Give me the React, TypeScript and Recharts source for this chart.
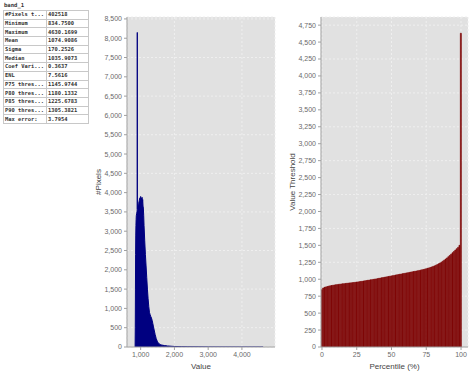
import React from "react";
import {
  AreaChart, Area, BarChart, Bar, XAxis, YAxis, CartesianGrid,
} from "recharts";

// stats panel
const statNames = [
  "#Pixels t...", "Minimum", "Maximum", "Mean", "Sigma", "Median", "Coef Vari...",
  "ENL", "P75 thres...", "P80 thres...", "P85 thres...", "P90 thres...", "Max error:",
];
const statValues = [
  "402518", "834.7500", "4630.1699", "1074.9086", "170.2526", "1035.9073", "0.3637",
  "7.5616", "1145.9744", "1180.1332", "1225.6783", "1305.3821", "3.7954",
];

// histogram (band_1)
const histValue = [
  835, 840, 845, 850, 855, 860, 865, 870, 880, 890, 897, 900, 903,
  910, 920, 930, 940, 950, 960, 970, 980, 990, 1000,
  1010, 1020, 1030, 1040, 1050, 1060, 1070, 1080, 1090, 1100,
  1120, 1140, 1160, 1180, 1200, 1220, 1240, 1260, 1280, 1300,
  1320, 1340, 1360, 1380, 1400, 1430, 1460, 1500, 1550, 1600,
  1700, 1800, 1900, 2000, 2200, 2400, 2700, 3000, 3500, 4000, 4630,
];
const histCount = [
  0, 500, 1500, 2400, 2900, 3150, 3300, 3400, 3450, 3500, 3550, 8150, 3580,
  3600, 3650, 3700, 3720, 3760, 3800, 3850, 3820, 3880, 3900,
  3780, 3860, 3700, 3880, 3740, 3820, 3650, 3600, 3400, 3150,
  2750, 2400, 2100, 1800, 1500, 1250, 1050, 900, 840, 790,
  750, 690, 610, 520, 440, 320, 220, 130, 80, 55,
  38, 27, 20, 14, 9, 6, 4, 3, 2, 1, 1,
];
const histXTicks = [1000, 2000, 3000, 4000];
const histYTicks = [0, 500, 1000, 1500, 2000, 2500, 3000, 3500, 4000, 4500, 5000, 5500, 6000, 6500, 7000, 7500, 8000, 8500];

// percentile thresholds
const percentiles = [
  0, 1, 2, 3, 4, 5, 6, 7, 8, 9, 10, 11, 12, 13, 14, 15, 16, 17, 18, 19, 20,
  21, 22, 23, 24, 25, 26, 27, 28, 29, 30, 31, 32, 33, 34, 35, 36, 37, 38, 39, 40,
  41, 42, 43, 44, 45, 46, 47, 48, 49, 50, 51, 52, 53, 54, 55, 56, 57, 58, 59, 60,
  61, 62, 63, 64, 65, 66, 67, 68, 69, 70, 71, 72, 73, 74, 75, 76, 77, 78, 79, 80,
  81, 82, 83, 84, 85, 86, 87, 88, 89, 90, 91, 92, 93, 94, 95, 96, 97, 98, 99, 100,
];
const thresholds = [
  845, 870, 880, 887, 893, 898, 903, 907, 911, 915, 918, 921, 924, 927, 930, 933, 935, 938, 940, 943, 945,
  947, 950, 952, 955, 958, 961, 964, 967, 970, 973, 977, 980, 984, 987, 991, 994, 998, 1001, 1005, 1009,
  1013, 1017, 1021, 1025, 1029, 1033, 1037, 1041, 1045, 1049, 1053, 1057, 1061, 1065, 1069, 1073, 1077, 1081, 1085, 1089,
  1093, 1097, 1101, 1105, 1109, 1113, 1117, 1121, 1125, 1130, 1134, 1139, 1144, 1149, 1155, 1161, 1167, 1174, 1181, 1189,
  1197, 1206, 1216, 1227, 1239, 1252, 1266, 1281, 1297, 1314, 1332, 1351, 1370, 1390, 1410, 1430, 1450, 1470, 1500, 4630,
];
const pctXTicks = [0, 25, 50, 75, 100];
const pctYTicks = [0, 250, 500, 750, 1000, 1250, 1500, 1750, 2000, 2250, 2500, 2750, 3000, 3250, 3500, 3750, 4000, 4250, 4500, 4750];

const histData = histValue.map((v, i) => ({ value: v, count: histCount[i] }));
const pctData = percentiles.map((p, i) => ({ pct: p, threshold: thresholds[i] }));

const FONT = "'Liberation Sans', Arial, sans-serif";
const tickStyle = { fontSize: 7, fill: "#6a6a6a", fontFamily: FONT };
const AXIS = "#a0a0a0";
const fmt = (v: number) => v.toLocaleString("en-US");

const yTitle = (text: string, dx: number) => (props: any) => {
  const vb = props.viewBox || {};
  const cx = (vb.x ?? 0) + dx;
  const cy = (vb.y ?? 0) + (vb.height ?? 0) / 2;
  return (
    <text
      x={cx} y={cy} transform={`rotate(-90 ${cx} ${cy})`}
      textAnchor="middle" dominantBaseline="central"
      style={{ fontSize: 8, fill: "#444", fontFamily: FONT }}
    >
      {text}
    </text>
  );
};

function StatsTable() {
  const cell = { border: "1px solid #c8c8c8", padding: "0 1px", lineHeight: "7px", whiteSpace: "nowrap" as const };
  return (
    <div style={{ position: "absolute", left: 3, top: 1, fontFamily: "'DejaVu Sans Mono', monospace", fontSize: 5.4, fontWeight: "bold", color: "#333" }}>
      <div style={{ height: 9, lineHeight: "9px", paddingLeft: 1, fontSize: 5.6 }}>band_1</div>
      <table style={{ borderCollapse: "collapse", width: 86 }}>
        <tbody>
          {statNames.map((n, i) => (
            <tr key={n} style={{ height: 8.7 }}>
              <td style={{ ...cell, width: 40 }}>{n}</td>
              <td style={cell}>{statValues[i]}</td>
            </tr>
          ))}
        </tbody>
      </table>
    </div>
  );
}

export default function App() {
  return (
    <div style={{ position: "absolute", left: 0, top: 0, width: 474, height: 378, background: "#fff", overflow: "hidden" }}>
      <StatsTable />

      <div style={{ position: "absolute", left: 80, top: 0 }}>
        <AreaChart width={200} height={378} data={histData} margin={{ top: 17, right: 5, bottom: 0, left: 0 }}>
          <CartesianGrid fill="#e1e1e1" stroke="#efefef" strokeDasharray="2 2" />
          <XAxis
            dataKey="value" type="number" domain={[595, 4980]} ticks={histXTicks}
            tickFormatter={fmt} tick={tickStyle} tickSize={3} height={31}
            stroke={AXIS} allowDataOverflow
            label={{ value: "Value", position: "insideBottom", offset: 9, style: { fontSize: 8, fill: "#444", fontFamily: FONT } }}
          />
          <XAxis xAxisId="top" orientation="top" height={0} tick={false} tickLine={false} stroke={AXIS} />
          <YAxis
            type="number" domain={[0, 8550]} ticks={histYTicks} tickFormatter={fmt}
            tick={tickStyle} tickSize={3} width={47} stroke={AXIS} allowDataOverflow
            label={{ content: yTitle("#Pixels", 18) }}
          />
          <YAxis yAxisId="right" orientation="right" width={0} tick={false} tickLine={false} stroke={AXIS} />
          <Area
            dataKey="count" type="linear" fill="#000080" fillOpacity={1}
            stroke="#000080" strokeWidth={1} isAnimationActive={false} dot={false}
          />
        </AreaChart>
      </div>

      <div style={{ position: "absolute", left: 276, top: 0 }}>
        <BarChart width={198} height={378} data={pctData} margin={{ top: 17, right: 6, bottom: 0, left: 0 }} barCategoryGap={0} barGap={0}>
          <CartesianGrid fill="#e1e1e1" stroke="#efefef" strokeDasharray="2 2" />
          <XAxis
            dataKey="pct" type="number" domain={[-0.7, 105]} ticks={pctXTicks}
            tick={tickStyle} tickSize={3} height={31} stroke={AXIS} allowDataOverflow
            label={{ value: "Percentile (%)", position: "insideBottom", offset: 9, style: { fontSize: 8, fill: "#444", fontFamily: FONT } }}
          />
          <XAxis xAxisId="top" orientation="top" height={0} tick={false} tickLine={false} stroke={AXIS} />
          <YAxis
            type="number" domain={[0, 4870]} ticks={pctYTicks} tickFormatter={fmt}
            tick={tickStyle} tickSize={3} width={45} stroke={AXIS} allowDataOverflow
            label={{ content: yTitle("Value Threshold", 16) }}
          />
          <YAxis yAxisId="right" orientation="right" width={0} tick={false} tickLine={false} stroke={AXIS} />
          <Bar dataKey="threshold" fill="#860808" stroke="#7c0606" strokeWidth={0.7} isAnimationActive={false} />
        </BarChart>
      </div>
    </div>
  );
}
